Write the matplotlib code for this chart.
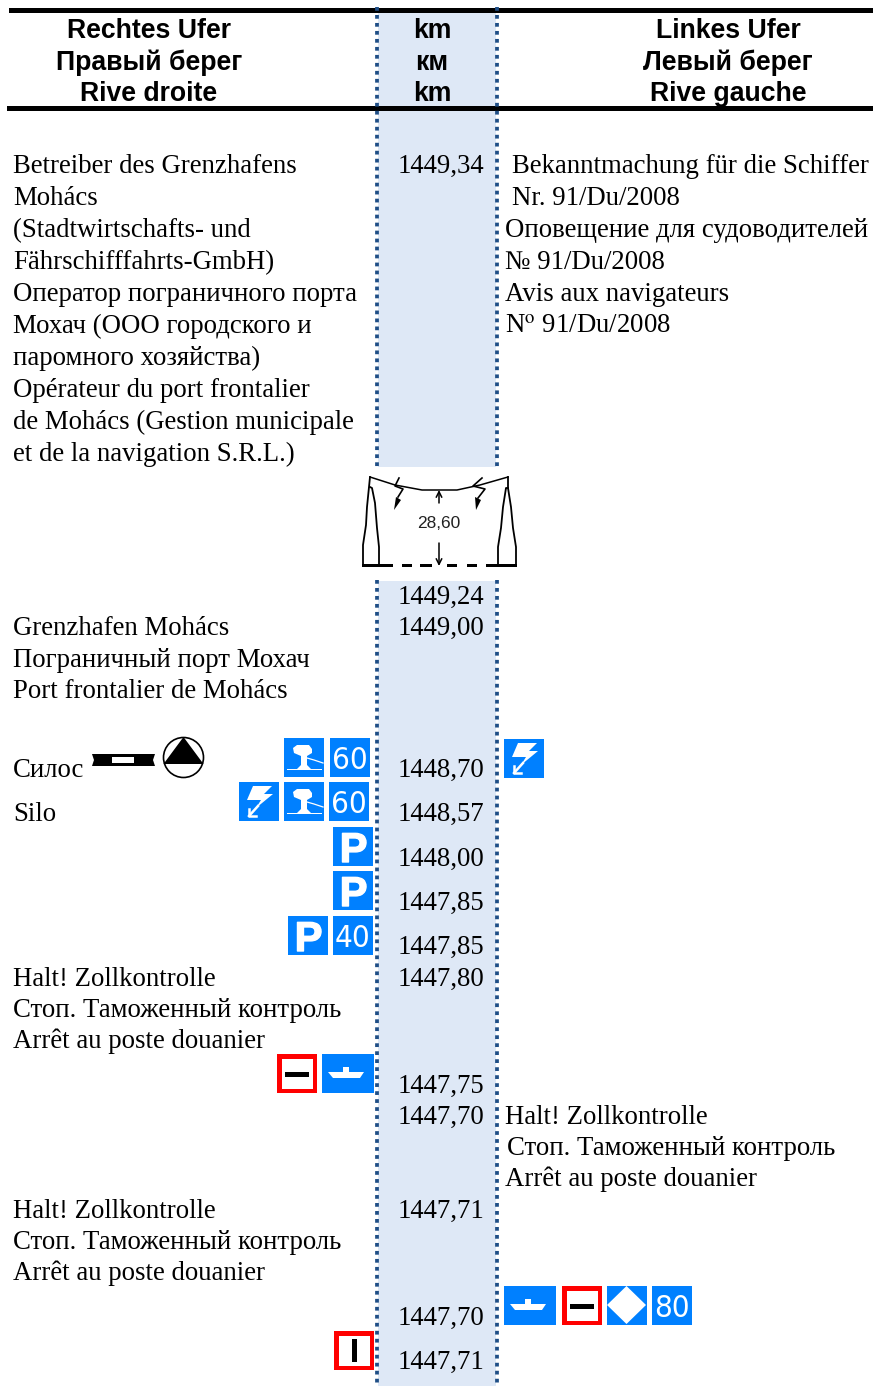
import matplotlib
matplotlib.use("Agg")
import matplotlib.pyplot as plt
import matplotlib.patheffects as pe
from matplotlib.patches import Rectangle, Polygon, Circle

SERIF = "Liberation Serif"
SANS = "Liberation Sans"
BLUE = "#0080FF"
RED = "#FF0000"

header_left = ["Rechtes Ufer", "Правый берег", "Rive droite"]
header_km = ["km", "км", "km"]
header_right = ["Linkes Ufer", "Левый берег", "Rive gauche"]

left_lines = [
    ("Betreiber des Grenzhafens", 164), ("Mohács", 196),
    ("(Stadtwirtschafts- und", 228), ("Fährschifffahrts-GmbH)", 260),
    ("Оператор пограничного порта", 292), ("Мохач (ООО городского и", 324),
    ("паромного хозяйства)", 356), ("Opérateur du port frontalier", 388),
    ("de Mohács (Gestion municipale", 420), ("et de la navigation S.R.L.)", 452),
    ("Grenzhafen Mohács", 626), ("Пограничный порт Мохач", 658),
    ("Port frontalier de Mohács", 689), ("Силос", 768), ("Silo", 812),
    ("Halt! Zollkontrolle", 977), ("Стоп. Таможенный контроль", 1008),
    ("Arrêt au poste douanier", 1039),
    ("Halt! Zollkontrolle", 1209), ("Стоп. Таможенный контроль", 1240),
    ("Arrêt au poste douanier", 1271),
]
km_lines = [
    ("1449,34", 164), ("1449,24", 595), ("1449,00", 626), ("1448,70", 768),
    ("1448,57", 812), ("1448,00", 857), ("1447,85", 901), ("1447,85", 945),
    ("1447,80", 977), ("1447,75", 1084), ("1447,70", 1115), ("1447,71", 1209),
    ("1447,70", 1316), ("1447,71", 1360),
]
right_lines = [
    ("Bekanntmachung für die Schiffer", 512, 164), ("Nr. 91/Du/2008", 512, 196),
    ("Оповещение для судоводителей", 505, 228), ("№ 91/Du/2008", 505, 260),
    ("Avis aux navigateurs", 505, 292), ("N$^{\\mathrm{o}}$ 91/Du/2008", 505, 324),
    ("Halt! Zollkontrolle", 505, 1115), ("Стоп. Таможенный контроль", 507, 1146),
    ("Arrêt au poste douanier", 505, 1177),
]
signs = [
    ("bollard", 284, 738), ("60", 330, 738), ("bolt", 239, 782), ("bollard", 284, 782),
    ("60", 329, 782), ("P", 333, 827), ("P", 333, 871), ("P", 288, 916), ("40", 333, 916),
    ("red_h", 277, 1054), ("ship", 322, 1054), ("bolt", 504, 739), ("ship", 504, 1286),
    ("red_h", 562, 1286), ("diamond", 607, 1286), ("80", 652, 1286), ("red_v", 334, 1331),
]

fig = plt.figure(figsize=(8.73, 13.86), dpi=100)
ax = fig.add_axes([0, 0, 1, 1])
ax.set_xlim(0, 873)
ax.set_ylim(1386, 0)
ax.axis("off")

# km band
for y0, y1 in [(7, 467), (580, 1386)]:
    ax.add_patch(Rectangle((378, y0 + 1), 118, y1 - y0 - 1, fc="#DEE8F6", ec="none", zorder=0))
    for x in (377, 497):
        ax.plot([x, x], [y0, y1], color="#1F4E86", lw=2.7, ls=(0, (1, 1.13)),
                dash_capstyle="butt", zorder=5)

# header rules
ax.add_patch(Rectangle((9, 8), 864, 4.7, fc="black", ec="none", zorder=4))
ax.add_patch(Rectangle((7, 106), 866, 4.7, fc="black", ec="none", zorder=4))

for i, cy in enumerate((29, 61, 92)):
    for cx, col in ((149, header_left), (432, header_km), (728, header_right)):
        ax.text(cx, cy + 9, col[i], family=SANS, weight="bold", fontsize=19.2,
                ha="center", va="baseline", color="black")

FS = 19.3
for s, cy in left_lines:
    ax.text(13, cy + 9, s, family=SERIF, fontsize=FS, va="baseline", ha="left", color="black")
for s, cy in km_lines:
    ax.text(441, cy + 9, s, family=SERIF, fontsize=FS, va="baseline", ha="center", color="black")
for s, x, cy in right_lines:
    ax.text(x, cy + 9, s, family=SERIF, fontsize=FS, va="baseline", ha="left", color="black",
            math_fontfamily="stix")


def poly(pts, **kw):
    kw.setdefault("fc", "white")
    kw.setdefault("ec", "none")
    ax.add_patch(Polygon(pts, closed=True, zorder=6, **kw))


def rel(x, y, pts):
    return [(x + a, y + b) for a, b in pts]


def sign(kind, x, y):
    h = 39
    w = 52 if kind == "ship" else 40
    if kind.startswith("red"):
        ax.add_patch(Rectangle((x, y), w, h, fc=RED, ec="none", zorder=4))
        ax.add_patch(Rectangle((x + 4.5, y + 4.5), w - 9, h - 9, fc="white", ec="none", zorder=5))
        if kind == "red_h":
            ax.add_patch(Rectangle((x + 8, y + 17.5), 24, 5, fc="black", ec="none", zorder=6))
        else:
            ax.add_patch(Rectangle((x + 17.5, y + 8), 5, 23, fc="black", ec="none", zorder=6))
        return
    ax.add_patch(Rectangle((x, y), w, h, fc=BLUE, ec="none", zorder=4))
    if kind in ("60", "40", "80"):
        ax.text(x + w / 2, y + 31, kind, family="DejaVu Sans", stretch="condensed", fontsize=22.5,
                color="white", ha="center", va="baseline", zorder=6)
    elif kind == "P":
        ax.text(x + w / 2 + 0.5, y + 35, "P", family=SANS, weight="bold", fontsize=30,
                color="white", ha="center", va="baseline", zorder=6,
                path_effects=[pe.withStroke(linewidth=1, foreground="white")])
    elif kind == "ship":
        poly(rel(x, y, [(6, 18), (21, 18), (21, 13), (27, 13), (27, 18), (42, 18), (38, 24), (11, 24)]))
    elif kind == "diamond":
        poly(rel(x, y, [(0, 19), (19.5, 0), (39, 19), (19.5, 38)]))
    elif kind == "bolt":
        poly(rel(x, y, [(14, 4), (33, 4), (25, 12), (34, 12), (17, 26), (22, 18), (8, 18)]))
        ax.plot([x + 19, x + 10], [y + 24, y + 34], color="white", lw=1.8, zorder=6)
        ax.plot([x + 10, x + 10, x + 17], [y + 27, y + 34, y + 34], color="white", lw=1.8, zorder=6)
    elif kind == "bollard":
        poly(rel(x, y, [(9, 10), (13, 7), (25, 7), (28, 11), (28, 15), (23, 18), (23, 27), (27, 31),
                        (38, 31), (38, 32), (3, 32), (3, 31), (13, 31), (17, 27), (17, 18), (10, 15)]))
        ax.plot([x + 23, x + 30, x + 39], [y + 20, y + 22, y + 25], color="white", lw=0.9, zorder=6)


for kind, x, y in signs:
    sign(kind, x, y)

# Silo symbol
poly([(92, 754), (155, 754), (153, 760), (155, 766), (92, 766), (94, 760)], fc="black")
ax.add_patch(Rectangle((112, 757), 22, 5.5, fc="white", ec="none", zorder=7))
ax.add_patch(Circle((183.5, 757.5), 20, fc="white", ec="black", lw=1.2, zorder=5))
poly([(183.5, 737), (163.5, 764), (203.5, 764)], fc="black")

# Bridge clearance symbol
k = "black"
ax.plot([370, 395, 422, 457, 480, 508], [477, 485, 490, 490, 485, 477], color=k, lw=1.1, zorder=5)
left_outer = [(370, 477), (369, 487), (367, 507), (366, 525), (363, 545), (363, 565)]
left_inner = [(370, 487), (372, 488), (375, 503), (377, 528), (379, 547), (379, 565)]
right_outer = [(508, 477), (508, 488), (511, 507), (513, 528), (516, 547), (516, 565)]
right_inner = [(508, 488), (506, 488), (503, 507), (501, 528), (498, 547), (498, 565)]
for line in (left_outer, left_inner, right_outer, right_inner):
    ax.plot([p[0] for p in line], [p[1] for p in line], color=k, lw=1.3, zorder=5)
# lightning bolts
for zig, tip in [
    ([(399, 478), (395, 486), (403, 489), (398, 497)], [(394, 510), (396, 497), (401, 500)]),
    ([(482, 478), (473, 486), (485, 489), (478, 498)], [(476, 510), (475, 497), (481, 500)]),
]:
    ax.plot([p[0] for p in zig], [p[1] for p in zig], color=k, lw=1.2, zorder=5)
    poly(tip, fc=k)
# ground line
for x0, x1 in [(362, 393), (402, 412), (420, 432), (447, 457), (467, 477), (486, 517)]:
    ax.add_patch(Rectangle((x0, 563.5), x1 - x0, 3.5, fc=k, ec="none", zorder=5))
ax.text(439, 524, "28,60", family=SANS, fontsize=12.5, ha="center", va="center", color="#222222", zorder=5)
ax.annotate("", xy=(439, 490), xytext=(439, 503),
            arrowprops=dict(arrowstyle="->", color=k, lw=1.1, shrinkA=0, shrinkB=0), zorder=5)
ax.annotate("", xy=(439, 566), xytext=(439, 543),
            arrowprops=dict(arrowstyle="->", color=k, lw=1.1, shrinkA=0, shrinkB=0), zorder=5)

fig.savefig("out.png", dpi=100, facecolor="white")
